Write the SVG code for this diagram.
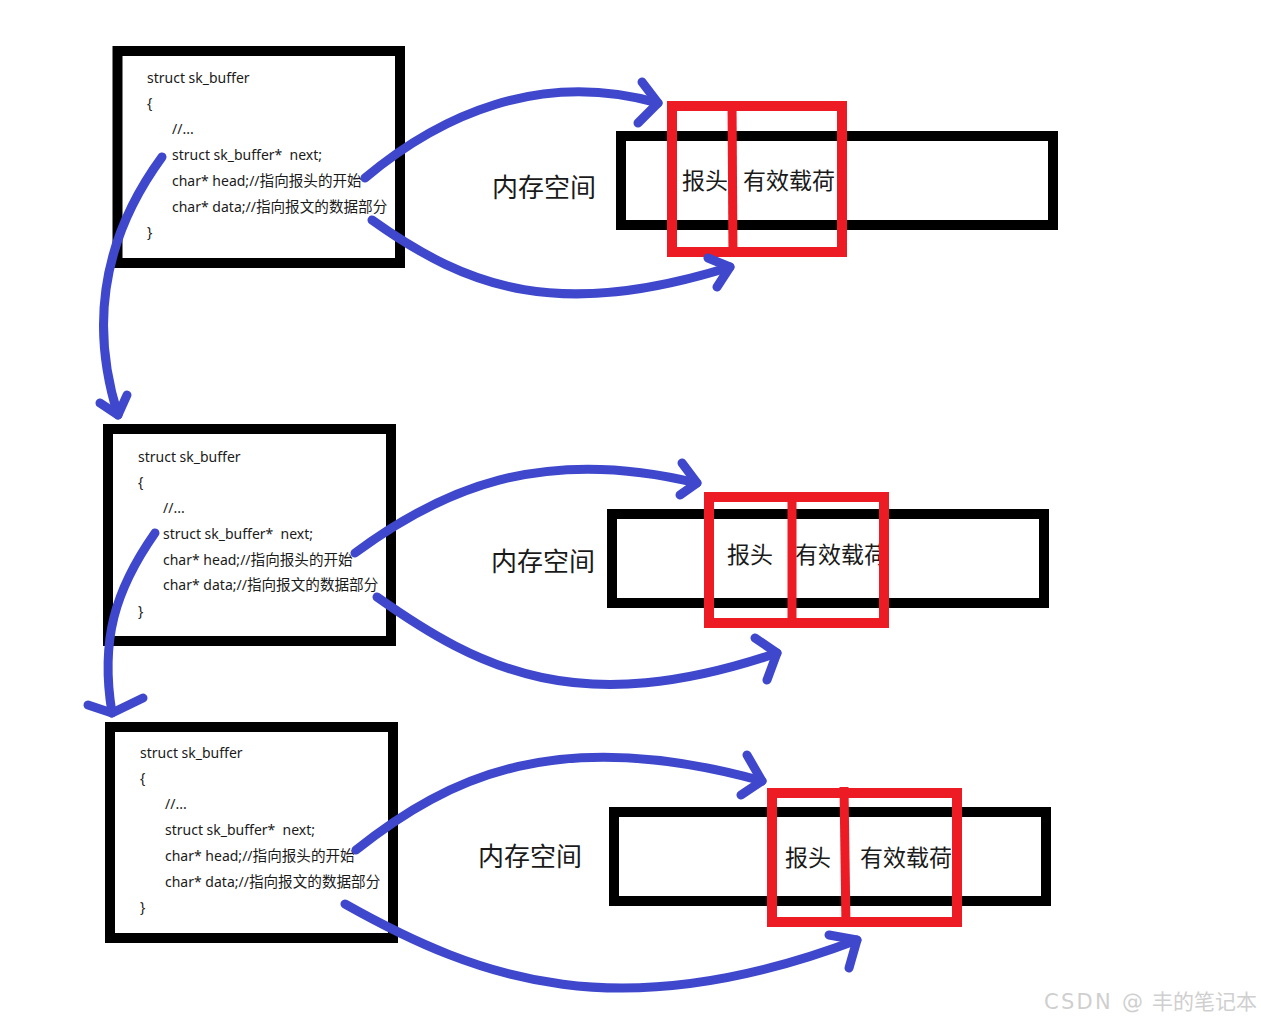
<svg xmlns="http://www.w3.org/2000/svg" width="1261" height="1023" viewBox="0 0 1261 1023">
<defs>
<style>
.box{fill:#fff;stroke:#000;stroke-width:10}
.mem{fill:#fff;stroke:#000;stroke-width:10}
.red{fill:none;stroke:#ed1c24;stroke-width:10}
.div{stroke:#ed1c24;stroke-width:9}
.code{font-family:"Noto Sans","Noto Sans CJK SC",sans-serif;font-size:14px;fill:#1a1a1a;white-space:pre}
.cjk{font-family:"Noto Sans CJK SC",sans-serif;font-size:14.6px}
.lbl{font-family:"Noto Sans CJK SC",sans-serif;font-size:26px;fill:#1a1a1a}
.seg{font-family:"Noto Sans CJK SC",sans-serif;font-size:23px;fill:#1a1a1a}
.arr{fill:none;stroke:#3f48cc;stroke-width:9;stroke-linecap:round;stroke-linejoin:round}
.wm{font-family:"DejaVu Sans","Noto Sans CJK SC",sans-serif;font-size:21px;fill:#cfcfcf}
</style>
</defs>
<rect width="1261" height="1023" fill="#fff"/>

<g id="skb1">
<rect class="box" x="117.5" y="51" width="282.5" height="212"/>
<text class="code" x="147" y="83">struct sk_buffer</text>
<text class="code" x="147" y="108">{</text>
<text class="code" x="172" y="134">//...</text>
<text class="code" x="172" y="160" xml:space="preserve">struct sk_buffer*  next;</text>
<text class="code" x="172" y="186">char* head;//<tspan class="cjk">指向报头的开始</tspan></text>
<text class="code" x="172" y="212">char* data;//<tspan class="cjk">指向报文的数据部分</tspan></text>
<text class="code" x="147" y="237">}</text>
</g>

<g id="mem1">
<rect class="mem" x="621" y="136" width="432" height="89"/>
<text class="lbl" x="492" y="197">内存空间</text>
<text class="seg" x="682" y="189">报头</text>
<text class="seg" x="743" y="189">有效载荷</text>
<rect class="red" x="672" y="106" width="170" height="146"/>
<line class="div" x1="732" y1="101" x2="733" y2="257"/>
</g>

<g id="skb2">
<rect class="box" x="108" y="429" width="283" height="212"/>
<text class="code" x="138" y="462">struct sk_buffer</text>
<text class="code" x="138" y="487">{</text>
<text class="code" x="163" y="513">//...</text>
<text class="code" x="163" y="539" xml:space="preserve">struct sk_buffer*  next;</text>
<text class="code" x="163" y="565">char* head;//<tspan class="cjk">指向报头的开始</tspan></text>
<text class="code" x="163" y="590">char* data;//<tspan class="cjk">指向报文的数据部分</tspan></text>
<text class="code" x="138" y="616">}</text>
</g>

<g id="mem2">
<rect class="mem" x="612" y="514" width="432" height="89"/>
<text class="lbl" x="491" y="571">内存空间</text>
<text class="seg" x="727" y="563">报头</text>
<text class="seg" x="795" y="563">有效载荷</text>
<rect class="red" x="709" y="497" width="175" height="126"/>
<line class="div" x1="792" y1="492" x2="792" y2="628"/>
</g>

<g id="skb3">
<rect class="box" x="110" y="727" width="283" height="211"/>
<text class="code" x="140" y="758">struct sk_buffer</text>
<text class="code" x="140" y="783">{</text>
<text class="code" x="165" y="809">//...</text>
<text class="code" x="165" y="835" xml:space="preserve">struct sk_buffer*  next;</text>
<text class="code" x="165" y="861">char* head;//<tspan class="cjk">指向报头的开始</tspan></text>
<text class="code" x="165" y="887">char* data;//<tspan class="cjk">指向报文的数据部分</tspan></text>
<text class="code" x="140" y="912">}</text>
</g>

<g id="mem3">
<rect class="mem" x="614" y="812" width="432" height="89"/>
<text class="lbl" x="478" y="866">内存空间</text>
<text class="seg" x="785" y="866">报头</text>
<text class="seg" x="860" y="866">有效载荷</text>
<rect class="red" x="772" y="793" width="185" height="129"/>
<line class="div" x1="844" y1="787" x2="846" y2="927"/>
</g>

<g id="connectors">
<path class="arr" d="M365,178 C440,115 540,70 658,103"/>
<path class="arr" d="M642,82 L658,103 L638,123"/>
<path class="arr" d="M372,220 C470,290 560,320 730,267"/>
<path class="arr" d="M708,258 L730,267 L717,287"/>
<path class="arr" d="M162,157 C105,235 88,320 118,415"/>
<path class="arr" d="M100,403 L118,415 L127,395"/>

<path class="arr" d="M355,553 C440,490 540,445 697,483"/>
<path class="arr" d="M682,463 L697,483 L680,495"/>
<path class="arr" d="M377,597 C480,670 580,720 777,653"/>
<path class="arr" d="M755,638 L777,653 L767,680"/>
<path class="arr" d="M155,533 C115,590 100,640 112,713"/>
<path class="arr" d="M88,705 L112,713 L143,698"/>

<path class="arr" d="M356,850 C450,775 560,725 762,781"/>
<path class="arr" d="M747,755 L762,781 L741,795"/>
<path class="arr" d="M345,904 C480,980 620,1030 857,940"/>
<path class="arr" d="M829,935 L857,940 L849,968"/>
</g>

<text class="wm" x="1044" y="1009"><tspan letter-spacing="2.3">CSDN @</tspan><tspan x="1152">丰的笔记本</tspan></text>
</svg>
